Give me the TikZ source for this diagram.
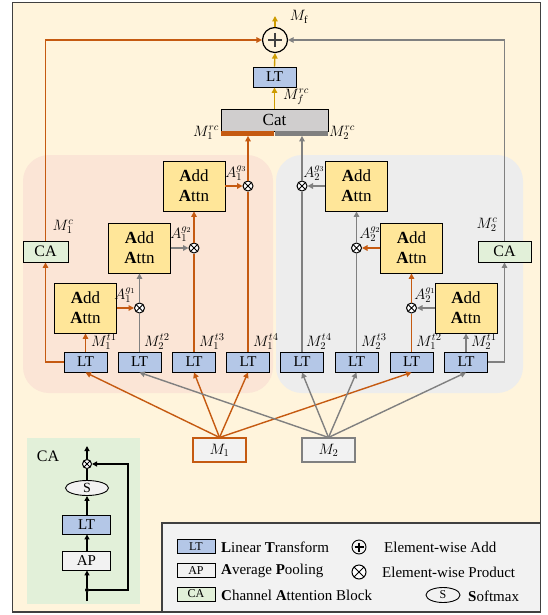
\RequirePackage{fix-cm}
\documentclass[tikz,border=0pt]{standalone}
\usepackage{fontspec}
\setmainfont{Liberation Serif}
\usetikzlibrary{arrows.meta,shapes.geometric}

\definecolor{orangec}{HTML}{C55A11}
\definecolor{grayc}{HTML}{808080}
\definecolor{goldc}{RGB}{205,155,0}
\definecolor{cream}{HTML}{FFF4DC}
\definecolor{pinkr}{HTML}{FBE5D6}
\definecolor{grayr}{HTML}{EDEDED}
\definecolor{attnyel}{HTML}{FFE699}
\definecolor{ltblue}{HTML}{B4C7E7}
\definecolor{cagreen}{HTML}{E2F0D9}
\definecolor{catgray}{HTML}{D0CECE}
\definecolor{lightg}{HTML}{F2F2F2}
\definecolor{framec}{HTML}{404040}

\tikzset{
  ltbox/.style={draw=black, fill=ltblue, line width=0.9pt, minimum width=43pt, minimum height=20pt, inner sep=0pt, font=\fontsize{15}{15}\selectfont},
  attnbox/.style={draw=black, fill=attnyel, line width=0.9pt, minimum width=62pt, minimum height=50pt, inner sep=0pt, align=center, font=\fontsize{17}{20}\selectfont},
  cabox/.style={draw=black, fill=cagreen, line width=0.9pt, minimum height=21pt, inner sep=0pt, font=\fontsize{16}{16}\selectfont},
  mbox/.style={fill=lightg, line width=1.1pt, minimum width=53pt, minimum height=24pt, inner sep=0pt, font=\fontsize{15}{15}\selectfont},
  ox/.style={circle, draw=black, fill=white, line width=1pt, minimum size=10pt, inner sep=0pt,
    path picture={\draw[line width=1pt] (path picture bounding box.south west) -- (path picture bounding box.north east)
      (path picture bounding box.north west) -- (path picture bounding box.south east);}},
  lbl/.style={inner sep=0pt, font=\fontsize{15}{15}\selectfont},
  arr/.style={-{Triangle[length=5.5pt,width=5.5pt]}, line width=1.4pt},
  ln/.style={line width=1.4pt},
  blk/.style={-{Triangle[length=5pt,width=5pt]}, line width=1.6pt, draw=black},
  legtxt/.style={anchor=west, inner sep=0pt, font=\fontsize{15}{15}\selectfont},
  legbox/.style={draw=black, line width=0.9pt, minimum width=38pt, minimum height=14pt, inner sep=0pt, font=\fontsize{12}{12}\selectfont},
}

\begin{document}
\begin{tikzpicture}[x=1pt,y=-1pt]
\useasboundingbox (0,0) rectangle (548,615);
\fill[white] (0,0) rectangle (548,615);

% frame and shaded regions
\draw[draw=framec, fill=cream, line width=1.3pt] (12.5,2.5) rectangle (540.5,612);
\fill[pinkr, rounded corners=26pt] (23,155) rectangle (273,393);
\fill[grayr, rounded corners=26pt] (276,155) rectangle (523,393);
\fill[cagreen] (27,438) rectangle (140,604);
\draw[draw=framec, fill=lightg, line width=1.1pt] (162,523) rectangle (540.5,612);

% top fusion part
\node[circle, draw=black, line width=1.2pt, minimum size=25pt, inner sep=0pt] (plus) at (275,40) {};
\draw[line width=2.4pt, draw=framec] (275,33) -- (275,47) (268,40) -- (282,40);
\coordinate (mftop) at (275,16);
\node[lbl] at (299,17) {$M_{\mathrm{f}}$};
\node[ltbox] (toplt) at (274.5,77) {LT};
\node[draw=black, fill=catgray, line width=0.9pt, minimum width=107pt, minimum height=22pt, inner sep=0pt, font=\fontsize{17}{17}\selectfont] (cat) at (274.5,120) {Cat};
\node[fill=orangec, minimum width=53.5pt, minimum height=4.5pt, inner sep=0pt, anchor=north east] (barL) at (274.5,131) {};
\node[fill=grayc, minimum width=53.5pt, minimum height=4.5pt, inner sep=0pt, anchor=north west] (barR) at (274.5,131) {};
\node[lbl] at (296,97) {$M_f^{rc}$};
\node[lbl] at (206,133) {$M_1^{rc}$};
\node[lbl] at (342,133) {$M_2^{rc}$};

% linear transforms
\node[ltbox] (lt1) at (85.5,362) {LT};
\node[ltbox] (lt2) at (139.5,362) {LT};
\node[ltbox] (lt3) at (194,362) {LT};
\node[ltbox] (lt4) at (248,362) {LT};
\node[ltbox] (lt5) at (302,362) {LT};
\node[ltbox] (lt6) at (356.5,362) {LT};
\node[ltbox] (lt7) at (411.5,362) {LT};
\node[ltbox] (lt8) at (466,362) {LT};

% additive attention blocks
\node[attnbox] (at1) at (85.5,308) {\textbf{A}dd\\\textbf{A}ttn};
\node[attnbox] (at2) at (139.5,248) {\textbf{A}dd\\\textbf{A}ttn};
\node[attnbox] (at3) at (194,186) {\textbf{A}dd\\\textbf{A}ttn};
\node[attnbox] (at4) at (356.5,186) {\textbf{A}dd\\\textbf{A}ttn};
\node[attnbox] (at5) at (411.5,248) {\textbf{A}dd\\\textbf{A}ttn};
\node[attnbox] (at6) at (466,308) {\textbf{A}dd\\\textbf{A}ttn};

% products
\node[ox] (ox1) at (139.5,308) {};
\node[ox] (ox2) at (194,248) {};
\node[ox] (ox3) at (248,186) {};
\node[ox] (ox4) at (411.5,308) {};
\node[ox] (ox5) at (356.5,248) {};
\node[ox] (ox6) at (302,186) {};

% channel attention
\node[cabox, minimum width=45pt] (ca1) at (45.5,251.5) {CA};
\node[cabox, minimum width=53pt] (ca2) at (504.5,251.5) {CA};

% inputs
\node[mbox, draw=orangec] (m1) at (219.5,450) {$M_1$};
\node[mbox, draw=grayc] (m2) at (328.5,450) {$M_2$};

% labels
\node[lbl, anchor=west] at (91,342) {$M_1^{t1}$};
\node[lbl, anchor=west] at (144,342) {$M_2^{t2}$};
\node[lbl, anchor=west] at (199,342) {$M_1^{t3}$};
\node[lbl, anchor=west] at (253,342) {$M_1^{t4}$};
\node[lbl, anchor=west] at (306,342) {$M_2^{t4}$};
\node[lbl, anchor=west] at (361,342) {$M_2^{t3}$};
\node[lbl, anchor=west] at (416,342) {$M_1^{t2}$};
\node[lbl, anchor=west] at (471,342) {$M_2^{t1}$};
\node[lbl] at (125,295) {$A_1^{g_1}$};
\node[lbl] at (181,234) {$A_1^{g_2}$};
\node[lbl] at (236,173) {$A_1^{g_3}$};
\node[lbl] at (314,173) {$A_2^{g_3}$};
\node[lbl] at (370,234) {$A_2^{g_2}$};
\node[lbl] at (425,295) {$A_2^{g_1}$};
\node[lbl] at (63,227) {$M_1^{c}$};
\node[lbl] at (487,225) {$M_2^{c}$};

% top connectors
\draw[arr, draw=goldc] (cat.north) -- (toplt.south);
\draw[arr, draw=goldc] (toplt.north) -- (plus.south);
\draw[arr, draw=goldc] (plus.north) -- (mftop);
\draw[arr, draw=orangec] (ca1.north) |- (plus.west);
\draw[arr, draw=grayc] (ca2.north) |- (plus.east);
\draw[arr, draw=orangec] (lt1.west) -| (ca1.south);
\draw[arr, draw=grayc] (lt8.east) -| (ca2.south);

% left branch
\draw[arr, draw=orangec] (lt1.north) -- (at1.south);
\draw[arr, draw=orangec] (at1.east) -- (ox1.west);
\draw[ln, draw=grayc] (lt2.north) -- (ox1.south);
\draw[arr, draw=grayc] (ox1.north) -- (at2.south);
\draw[arr, draw=grayc] (at2.east) -- (ox2.west);
\draw[ln, draw=orangec] (lt3.north) -- (ox2.south);
\draw[arr, draw=orangec] (ox2.north) -- (at3.south);
\draw[arr, draw=orangec] (at3.east) -- (ox3.west);
\draw[ln, draw=orangec] (lt4.north) -- (ox3.south);
\draw[arr, draw=orangec] (ox3.north) -- (ox3.north |- barL.south);

% right branch
\draw[arr, draw=grayc] (lt8.north) -- (at6.south);
\draw[arr, draw=grayc] (at6.west) -- (ox4.east);
\draw[ln, draw=orangec] (lt7.north) -- (ox4.south);
\draw[arr, draw=orangec] (ox4.north) -- (at5.south);
\draw[arr, draw=orangec] (at5.west) -- (ox5.east);
\draw[ln, draw=grayc] (lt6.north) -- (ox5.south);
\draw[arr, draw=grayc] (ox5.north) -- (at4.south);
\draw[arr, draw=grayc] (at4.west) -- (ox6.east);
\draw[ln, draw=grayc] (lt5.north) -- (ox6.south);
\draw[arr, draw=grayc] (ox6.north) -- (ox6.north |- barR.south);

% inputs to linear transforms
\foreach \t in {lt1,lt3,lt4,lt7} \draw[arr, draw=orangec] (m1.north) -- (\t.south);
\foreach \t in {lt2,lt5,lt6,lt8} \draw[arr, draw=grayc] (m2.north) -- (\t.south);

% channel attention block detail
\node[inner sep=0pt, font=\fontsize{16}{16}\selectfont] at (48,456) {CA};
\node[ox, minimum size=9pt] (cox) at (87,464) {};
\coordinate (cout) at (87,446);
\node[ellipse, draw=black, fill=lightg, line width=0.9pt, minimum width=43pt, minimum height=15pt, inner sep=0pt, font=\fontsize{14}{14}\selectfont] (cs) at (87,488) {S};
\node[draw=black, fill=ltblue, line width=0.9pt, minimum width=48pt, minimum height=19pt, inner sep=0pt, font=\fontsize{15}{15}\selectfont] (clt) at (86.5,524.5) {LT};
\node[draw=black, fill=lightg, line width=0.9pt, minimum width=48pt, minimum height=19pt, inner sep=0pt, font=\fontsize{15}{15}\selectfont] (cap) at (86.5,560.5) {AP};
\node[circle, fill=black, minimum size=4pt, inner sep=0pt] (cdot) at (87,590) {};
\coordinate (cin) at (87,601);
\draw[line width=1.6pt] (cin) -- (cdot);
\draw[blk] (cdot) -- (cap.south -| cdot);
\draw[blk] (cap.north -| cdot) -- (clt.south -| cdot);
\draw[blk] (clt.north -| cdot) -- (cs.south);
\draw[line width=1.6pt] (cs.north) -- (cox.south);
\draw[blk] (cox.north) -- (cout);
\draw[blk] (cdot) -| (128,464) -- (cox.east);

% legend
\node[legbox, fill=ltblue] (lgLT) at (196,546.5) {LT};
\node[legbox, fill=lightg] (lgAP) at (196,570.5) {AP};
\node[legbox, fill=cagreen] (lgCA) at (196,594) {CA};
\node[legtxt] at (221,547) {\textbf{L}inear \textbf{T}ransform};
\node[legtxt] at (221,571) {\textbf{A}verage \textbf{P}ooling};
\node[legtxt] at (221,595) {\textbf{C}hannel \textbf{A}ttention Block};
\node[circle, draw=black, line width=0.9pt, minimum size=14pt, inner sep=0pt] (lgAdd) at (359,547) {};
\draw[line width=1.2pt] (359,542.5) -- (359,551.5) (354.5,547) -- (363.5,547);
\node[ox, minimum size=14pt] (lgMul) at (359,572) {};
\node[legtxt] at (384,547) {Element-wise Add};
\node[legtxt] at (382,572) {Element-wise Product};
\node[ellipse, draw=black, fill=lightg, line width=0.9pt, minimum width=34pt, minimum height=15pt, inner sep=0pt, font=\fontsize{12}{12}\selectfont] (lgS) at (443,595) {S};
\node[legtxt] at (468,596) {\textbf{S}oftmax};
\end{tikzpicture}
\end{document}
